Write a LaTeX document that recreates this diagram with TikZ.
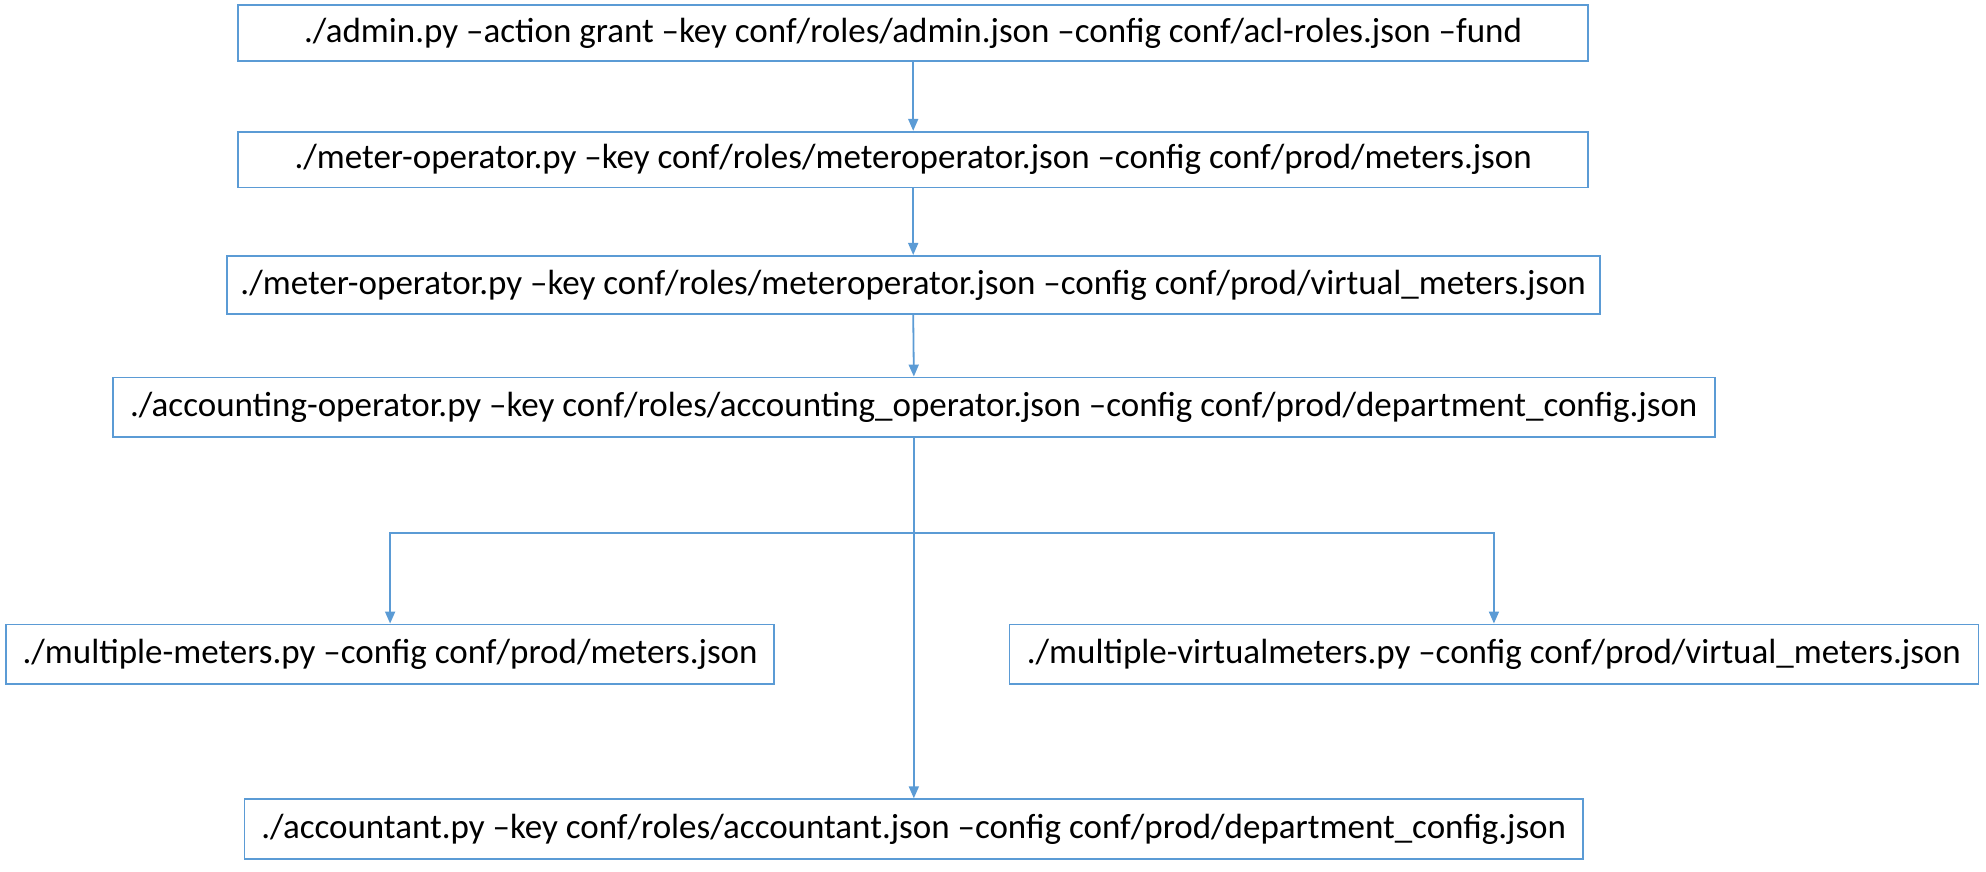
\documentclass[tikz,border=0pt]{standalone}
\usepackage{fontspec}
\setmainfont{Carlito}
\usetikzlibrary{arrows.meta}
\definecolor{lineblue}{HTML}{5B9BD5}
\begin{document}
\begin{tikzpicture}[x=1.2666pt,y=-1.2666pt,
  cmdbox/.style={draw=lineblue,line width=1.8pt,fill=white,inner sep=0pt,font=\fontsize{35}{40}\selectfont,text=black},
  conn/.style={draw=lineblue,line width=1.8pt,-{Triangle[length=12pt,width=10pt]}}]
\useasboundingbox (0,0) rectangle (1568,687.7);
\node[cmdbox,minimum width=1066*1.2666,minimum height=44*1.2666] (a) at (721,26) {./admin.py –action grant –key conf/roles/admin.json –config conf/acl-roles.json –fund};
\node[cmdbox,minimum width=1066*1.2666,minimum height=44*1.2666] (b) at (721,126) {./meter-operator.py –key conf/roles/meteroperator.json –config conf/prod/meters.json};
\node[cmdbox,minimum width=1084*1.2666,minimum height=46*1.2666] (c) at (721,225) {./meter-operator.py –key conf/roles/meteroperator.json –config conf/prod/virtual\_meters.json};
\node[cmdbox,minimum width=1265*1.2666,minimum height=47*1.2666] (d) at (721.5,321.5) {./accounting-operator.py –key conf/roles/accounting\_operator.json –config conf/prod/department\_config.json};
\node[cmdbox,minimum width=606*1.2666,minimum height=47*1.2666] (e) at (308,516.5) {./multiple-meters.py –config conf/prod/meters.json};
\node[cmdbox,minimum width=765*1.2666,minimum height=47*1.2666] (f) at (1179.5,516.5) {./multiple-virtualmeters.py –config conf/prod/virtual\_meters.json};
\node[cmdbox,minimum width=1057*1.2666,minimum height=47*1.2666] (g) at (721.5,654.5) {./accountant.py –key conf/roles/accountant.json –config conf/prod/department\_config.json};
\coordinate (split) at (721,421);
\draw[conn] (a.south) -- (b.north);
\draw[conn] (b.south) -- (c.north);
\draw[conn] (c.south) -- (d.north);
\draw[conn] (d.south) -- (g.north);
\draw[conn] (split) -| (e.north);
\draw[conn] (split) -| (f.north);
\end{tikzpicture}
\end{document}
